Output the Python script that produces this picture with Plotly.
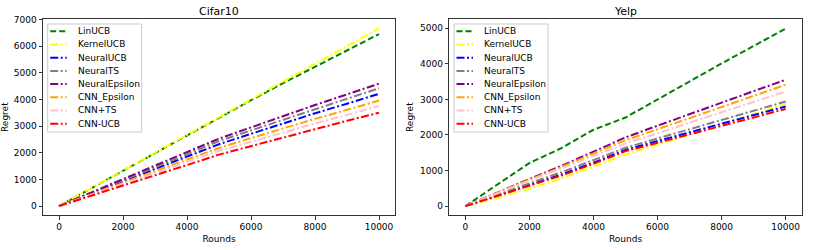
import plotly.graph_objects as go

rounds = [0, 1000, 2000, 3000, 4000, 5000, 6000, 7000, 8000, 9000, 10000]
names = ["LinUCB", "KernelUCB", "NeuralUCB", "NeuralTS", "NeuralEpsilon", "CNN_Epsilon", "CNN+TS", "CNN-UCB"]
colors = ["green", "yellow", "blue", "gray", "purple", "orange", "pink", "red"]

x_ticks = [0, 2000, 4000, 6000, 8000, 10000]
x_ticklabels = ["0", "2000", "4000", "6000", "8000", "10000"]
cifar_yticks = [0, 1000, 2000, 3000, 4000, 5000, 6000, 7000]
yelp_yticks = [0, 1000, 2000, 3000, 4000, 5000]

# Cifar10 regret
cifar_linucb = [0, 665, 1330, 1995, 2660, 3320, 3970, 4610, 5230, 5850, 6450]
cifar_kernelucb = [0, 667, 1334, 2001, 2668, 3335, 4002, 4669, 5336, 6003, 6670]
cifar_neuralucb = [0, 460, 920, 1390, 1850, 2320, 2710, 3100, 3480, 3840, 4210]
cifar_neuralts = [0, 480, 960, 1450, 1940, 2440, 2840, 3250, 3650, 4030, 4420]
cifar_neuraleps = [0, 500, 1000, 1510, 2020, 2530, 2950, 3380, 3790, 4190, 4590]
cifar_cnneps = [0, 430, 860, 1300, 1740, 2180, 2550, 2920, 3270, 3610, 3960]
cifar_cnnts = [0, 410, 820, 1230, 1650, 2070, 2410, 2760, 3100, 3420, 3750]
cifar_cnnucb = [0, 380, 760, 1150, 1540, 1930, 2250, 2580, 2890, 3200, 3500]

# Yelp regret
yelp_linucb = [0, 610, 1210, 1630, 2145, 2490, 3000, 3520, 4010, 4500, 4990]
yelp_kernelucb = [0, 230, 490, 780, 1110, 1450, 1730, 2020, 2300, 2590, 2870]
yelp_neuralucb = [0, 300, 590, 890, 1220, 1580, 1830, 2070, 2320, 2560, 2800]
yelp_neuralts = [0, 330, 640, 950, 1290, 1640, 1900, 2160, 2420, 2680, 2940]
yelp_neuraleps = [0, 390, 760, 1130, 1520, 1930, 2260, 2590, 2910, 3230, 3550]
yelp_cnneps = [0, 380, 740, 1100, 1470, 1850, 2160, 2470, 2780, 3100, 3410]
yelp_cnnts = [0, 370, 720, 1060, 1400, 1760, 2050, 2340, 2640, 2930, 3220]
yelp_cnnucb = [0, 290, 570, 860, 1190, 1545, 1780, 2020, 2260, 2490, 2730]

cifar = [cifar_linucb, cifar_kernelucb, cifar_neuralucb, cifar_neuralts,
         cifar_neuraleps, cifar_cnneps, cifar_cnnts, cifar_cnnucb]
yelp = [yelp_linucb, yelp_kernelucb, yelp_neuralucb, yelp_neuralts,
        yelp_neuraleps, yelp_cnneps, yelp_cnnts, yelp_cnnucb]

W, H = 830, 250
FONT = "DejaVu Sans"
DASHED = "6px,3px"
DASHDOT = "8px,2.5px,2px,2.5px"


def dash_of(i):
    return DASHED if i == 0 else DASHDOT


fig = go.Figure()
for i, n in enumerate(names):
    fig.add_trace(go.Scatter(x=rounds, y=cifar[i], mode="lines", name=n,
                             line=dict(color=colors[i], width=2, dash=dash_of(i)),
                             xaxis="x", yaxis="y", showlegend=False))
for i, n in enumerate(names):
    fig.add_trace(go.Scatter(x=rounds, y=yelp[i], mode="lines", name=n,
                             line=dict(color=colors[i], width=2, dash=dash_of(i)),
                             xaxis="x2", yaxis="y2", showlegend=False))

ydom = [1 - 215 / H, 1 - 19.3 / H]
axis_common = dict(showgrid=False, zeroline=False, showline=True, mirror=True,
                   linecolor="#333", linewidth=1, ticks="outside", ticklen=3.5,
                   tickcolor="#333", tickwidth=1, automargin=False,
                   tickfont=dict(family=FONT, size=9, color="black"))
tfont = dict(family=FONT, size=9, color="black")

fig.update_layout(
    width=W, height=H, margin=dict(l=0, r=0, t=0, b=0),
    plot_bgcolor="white", paper_bgcolor="white",
    xaxis=dict(domain=[43 / W, 395 / W], range=[-500, 10500], anchor="y",
               tickvals=x_ticks, ticktext=x_ticklabels,
               title=dict(text="Rounds", font=tfont, standoff=4), **axis_common),
    yaxis=dict(domain=ydom, range=[-335, 7005], anchor="x",
               tickvals=cifar_yticks, ticktext=[str(v) for v in cifar_yticks],
               title=dict(text="Regret", font=tfont, standoff=4), **axis_common),
    xaxis2=dict(domain=[449.3 / W, 801.7 / W], range=[-500, 10500], anchor="y2",
                tickvals=x_ticks, ticktext=x_ticklabels,
                title=dict(text="Rounds", font=tfont, standoff=4), **axis_common),
    yaxis2=dict(domain=ydom, range=[-250, 5250], anchor="x2",
                tickvals=yelp_yticks, ticktext=[str(v) for v in yelp_yticks],
                title=dict(text="Regret", font=tfont, standoff=4), **axis_common),
    showlegend=False,
)

# subplot titles
titles = [("Cifar10", 219), ("Yelp", 625.5)]
for t, cx in titles:
    fig.add_annotation(text=t, x=cx / W, y=1 - 11 / H, xref="paper", yref="paper",
                       showarrow=False, xanchor="center", yanchor="middle",
                       font=dict(family=FONT, size=11, color="black"))

# legends (drawn as shapes + text, matplotlib-style)
for bx in (47.7, 454.0):
    fig.add_shape(type="rect", xref="paper", yref="paper",
                  x0=bx / W, x1=(bx + 94) / W, y0=1 - 132 / H, y1=1 - 24 / H,
                  line=dict(color="#cccccc", width=1), fillcolor="rgba(255,255,255,0.85)",
                  layer="above")
    for i, n in enumerate(names):
        yy = 31.3 + 13.2 * i
        fig.add_shape(type="line", xref="paper", yref="paper",
                      x0=(bx + 2.5) / W, x1=(bx + 19) / W, y0=1 - yy / H, y1=1 - yy / H,
                      line=dict(color=colors[i], width=2, dash=dash_of(i)), layer="above")
        fig.add_annotation(text=n, x=(bx + 28) / W, y=1 - yy / H, xref="paper", yref="paper",
                           showarrow=False, xanchor="left", yanchor="middle",
                           font=dict(family=FONT, size=9, color="black"))

fig.write_html("out.html", config={"displayModeBar": False},
               post_script="document.body.style.margin='0';document.body.style.padding='0';")
